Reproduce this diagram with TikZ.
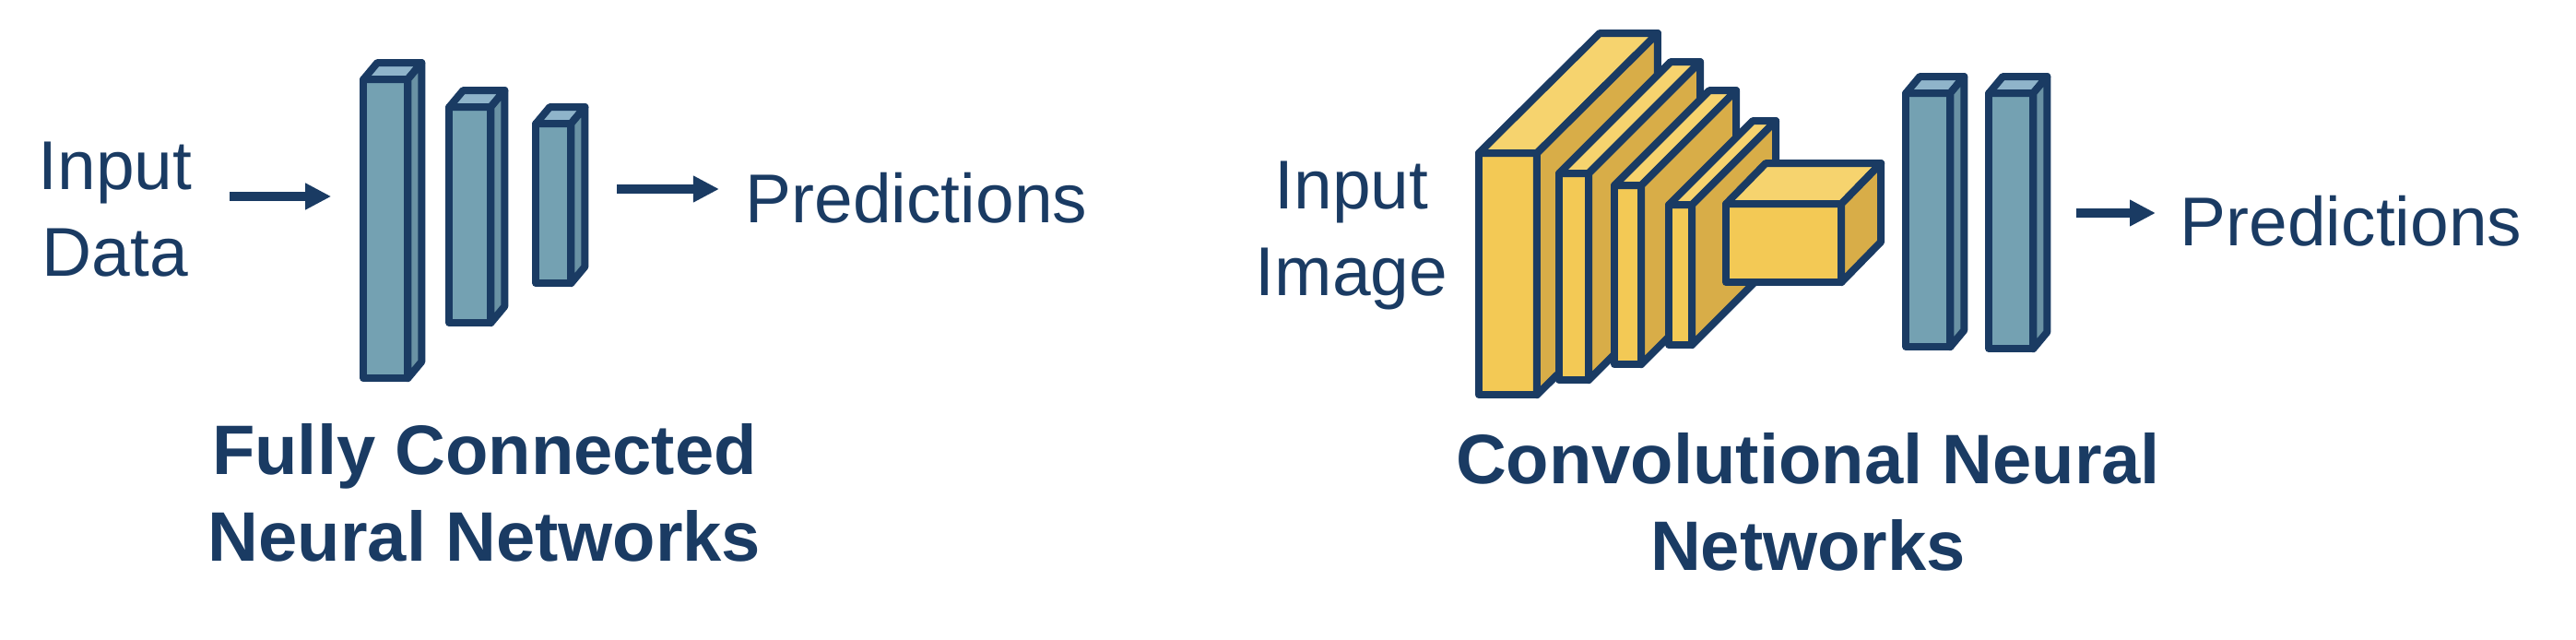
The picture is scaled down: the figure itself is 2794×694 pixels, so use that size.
\documentclass[tikz,border=0pt]{standalone}
\usepackage{fontspec}
\setmainfont{Liberation Sans}
\usetikzlibrary{arrows.meta,positioning}

\definecolor{navy}{HTML}{1A3B63}
\definecolor{bfront}{HTML}{74A1B2}
\definecolor{btop}{HTML}{8FB4CA}
\definecolor{bside}{HTML}{6A92A4}
\definecolor{yfront}{HTML}{F3C955}
\definecolor{ytop}{HTML}{F6D36E}
\definecolor{yside}{HTML}{D8AD48}

\tikzset{
  face/.style={draw=navy, line width=0.08cm, line join=round},
  fcbar/.style={face, fill=bfront, inner sep=0pt, outer sep=0pt},
  cvblock/.style={face, fill=yfront, inner sep=0pt, outer sep=0pt},
  lbl/.style={text=navy, inner sep=0pt, align=center, font=\fontsize{21.3}{26.5}\selectfont},
  ttl/.style={lbl, font=\bfseries\fontsize{21.6}{26.5}\selectfont},
  flow/.style={draw=navy, line width=0.1cm, -{Triangle[length=0.28cm,width=0.27cm]}},
}

% top and side of a box: node, dx, dy, top colour, side colour
\newcommand{\cubefaces}[5]{%
  \draw[face, fill=#4] (#1.north west) -- ([shift={(#2,#3)}]#1.north west) -- ([shift={(#2,#3)}]#1.north east) -- (#1.north east) -- cycle;
  \draw[face, fill=#5] (#1.north east) -- ([shift={(#2,#3)}]#1.north east) -- ([shift={(#2,#3)}]#1.south east) -- (#1.south east) -- cycle;
}

\begin{document}
\begin{tikzpicture}[x=0.01cm, y=-0.01cm]
\useasboundingbox (0,0) rectangle (2794,694);

\coordinate(O) at (0,0);

\node[fcbar, minimum width=0.48cm, minimum height=3.24cm, below right=0.86cm and 3.94cm of O](fc1) {};
\cubefaces{fc1}{15}{-18}{btop}{bside}
\node[fcbar, minimum width=0.45cm, minimum height=2.34cm, below right=1.16cm and 4.87cm of O](fc2) {};
\cubefaces{fc2}{15}{-18}{btop}{bside}
\node[fcbar, minimum width=0.38cm, minimum height=1.73cm, below right=1.34cm and 5.81cm of O](fc3) {};
\cubefaces{fc3}{15}{-18}{btop}{bside}

\node[cvblock, minimum width=0.63cm, minimum height=2.62cm, below right=1.66cm and 16.03cm of O](cv1) {};
\cubefaces{cv1}{131}{-130}{ytop}{yside}
\node[cvblock, minimum width=0.32cm, minimum height=2.24cm, below right=1.88cm and 16.90cm of O](cv2) {};
\cubefaces{cv2}{121}{-121}{ytop}{yside}
\node[cvblock, minimum width=0.29cm, minimum height=1.94cm, below right=2.01cm and 17.50cm of O](cv3) {};
\cubefaces{cv3}{103}{-103}{ytop}{yside}
\node[cvblock, minimum width=0.25cm, minimum height=1.52cm, below right=2.22cm and 18.09cm of O](cv4) {};
\cubefaces{cv4}{91}{-91}{ytop}{yside}
\node[cvblock, minimum width=1.25cm, minimum height=0.85cm, below right=2.21cm and 18.71cm of O](cv5) {};
\cubefaces{cv5}{43}{-44}{ytop}{yside}

\node[fcbar, minimum width=0.48cm, minimum height=2.75cm, below right=1.01cm and 20.66cm of O](cb1) {};
\cubefaces{cb1}{15}{-18}{btop}{bside}
\node[fcbar, minimum width=0.48cm, minimum height=2.77cm, below right=1.01cm and 21.56cm of O](cb2) {};
\cubefaces{cb2}{15}{-18}{btop}{bside}

\node[lbl, anchor=base](in1) at (125,299) {Input\\Data};
\node[lbl, anchor=base west](pr1) at (808,241) {Predictions};
\node[lbl, anchor=base](in2) at (1466,320) {Input\\Image};
\node[lbl, anchor=base west](pr2) at (2364,266) {Predictions};

\node[ttl, anchor=base](t1) at (525.5,608) {Fully Connected\\Neural Networks};
\node[ttl, anchor=base](t2) at (1961,618) {Convolutional Neural\\Networks};

\coordinate(l1) at (0,213);
\coordinate(l2) at (0,205);
\coordinate(l3) at (0,231);
\draw[flow, shorten <=0.4cm, shorten >=0.35cm] (in1.east |- l1) -- (fc1.west |- l1);
\draw[flow, shorten <=0.5cm, shorten >=0.28cm] (fc3.east |- l2) -- (pr1.west |- l2);
\draw[flow, shorten <=0.47cm, shorten >=0.26cm] (cb2.east |- l3) -- (pr2.west |- l3);
\end{tikzpicture}
\end{document}
